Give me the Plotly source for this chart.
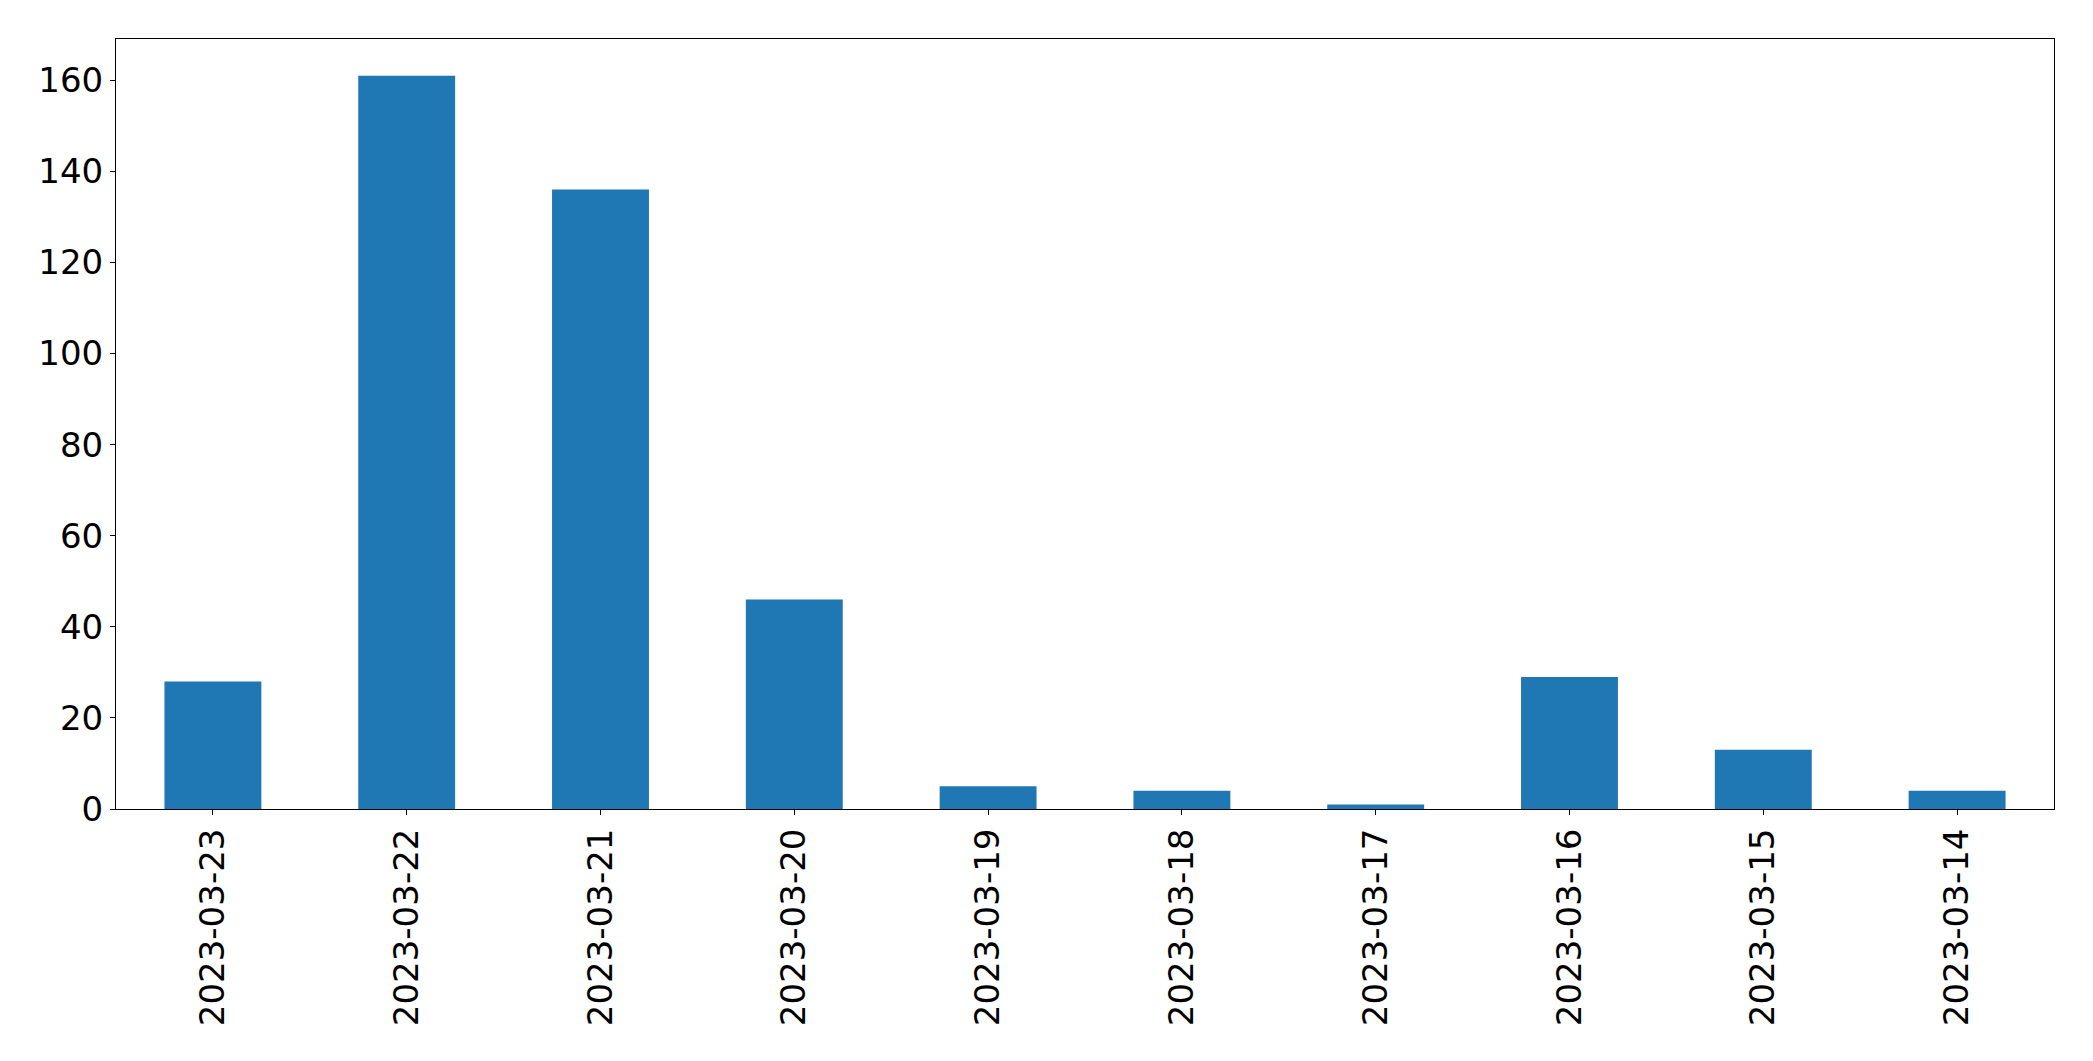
import plotly.graph_objects as go

dates = ["2023-03-23", "2023-03-22", "2023-03-21", "2023-03-20", "2023-03-19",
         "2023-03-18", "2023-03-17", "2023-03-16", "2023-03-15", "2023-03-14"]
counts = [28, 161, 136, 46, 5, 4, 1, 29, 13, 4]
y_ticks = [0, 20, 40, 60, 80, 100, 120, 140, 160]

fig = go.Figure(go.Bar(x=list(range(len(dates))), y=counts, width=0.5,
                       marker=dict(color="#1f77b4", line=dict(width=0))))

fig.update_layout(
    width=2077, height=1045,
    margin=dict(l=108, r=31, t=31, b=244, pad=0),
    paper_bgcolor="white", plot_bgcolor="white",
    font=dict(family="DejaVu Sans", size=34, color="black"),
    showlegend=False,
)
fig.update_xaxes(
    range=[-0.5, len(dates) - 0.5],
    tickmode="array", tickvals=list(range(len(dates))), ticktext=dates,
    tickangle=-90, ticks="outside", ticklen=5, tickwidth=1, tickcolor="black",
    showline=True, linecolor="black", linewidth=1, mirror=True,
    showgrid=False, zeroline=False,
)
fig.update_yaxes(
    range=[0, max(counts) * 1.05],
    tickmode="array", tickvals=y_ticks,
    ticks="outside", ticklen=5, tickwidth=1, tickcolor="black",
    showline=True, linecolor="black", linewidth=1, mirror=True,
    showgrid=False, zeroline=False,
)
fig.write_html("out.html")
